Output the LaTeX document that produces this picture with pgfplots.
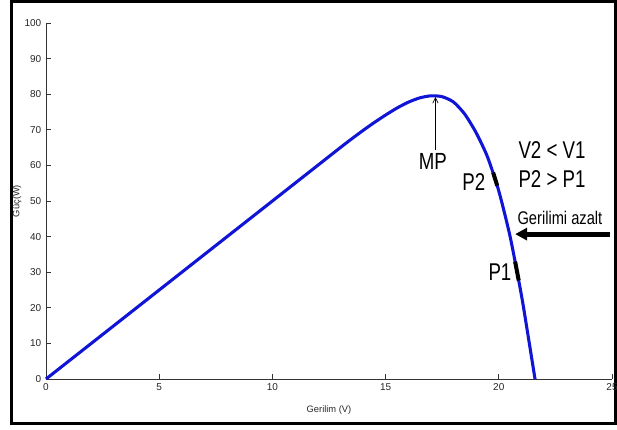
\documentclass[border=0pt]{standalone}
\usepackage{pgfplots}
\pgfplotsset{compat=1.18}
\usetikzlibrary{arrows.meta}
\usepackage{fontspec}
\setmainfont{Liberation Sans}
\definecolor{curveblue}{RGB}{15,20,215}
\begin{document}
\begin{tikzpicture}
\useasboundingbox (0,0) rectangle (462.75pt,321.75pt);
\begin{scope}[x=0.75pt,y=0.75pt]
\draw[line width=2.2pt] (11.5,5.5) rectangle (615.5,427.5);
\end{scope}
\begin{axis}[
  at={(34.5pt,37.5pt)}, anchor=south west,
  scale only axis, width=424.5pt, height=267pt,
  xmin=0, xmax=25, ymin=0, ymax=100,
  axis x line=bottom, axis y line=left,
  axis line style={-, black!80, line width=0.6pt},
  xtick={0,5,...,25}, ytick={0,10,...,100},
  xtick align=inside, ytick align=inside, major tick length=4pt,
  tick style={black!80, line width=0.6pt},
  ticklabel style={font=\fontsize{7.5}{8.5}\selectfont, text=black!85},
  /pgf/number format/assume math mode=true,
  xlabel={Gerilim (V)}, ylabel={Güç(W)},
  label style={font=\fontsize{7}{8}\selectfont, text=black!85},
  xlabel style={at={(axis description cs:0.5,-0.087)}, anchor=center},
  ylabel style={at={(axis description cs:-0.0512,0.5)}, anchor=center},
  clip=false,
]
\addplot[curveblue, line width=2.3pt, smooth, tension=0.4] coordinates {
(0,0) (5,25) (10,50) (11,55) (12,60) (13,65) (13.5,67.45) (14,69.8) (14.5,72.05)
(15,74.15) (15.5,76.1) (16,77.75) (16.5,78.95) (17,79.55) (17.5,79.3) (18,77.8)
(18.5,74.37) (19,69.16) (19.5,62.4) (20,52.8) (20.5,39.98) (21,23.52) (21.3,11.9) (21.6,0)
};
\addplot[black, line width=3pt] coordinates {(19.75,58.0) (19.93,54.3)};
\addplot[black, line width=3pt] coordinates {(20.72,33.0) (20.88,27.7)};
\draw[-{Straight Barb[length=4pt,width=4pt]}, line width=0.5pt] (axis cs:17.2,64.3) -- (axis cs:17.2,79.2);
\draw[-{Triangle[length=9pt,width=9pt]}, line width=3.6pt] (axis cs:24.9,40.7) -- (axis cs:20.72,40.7);
\node[font=\fontsize{14}{16}\selectfont, yscale=1.25, transform shape] at (axis cs:17.09,61.2) {MP};
\node[font=\fontsize{14}{16}\selectfont, yscale=1.3, transform shape] at (axis cs:22.35,64.3) {V2 < V1};
\node[font=\fontsize{14}{16}\selectfont, yscale=1.3, transform shape] at (axis cs:22.35,56.2) {P2 > P1};
\node[font=\fontsize{14}{16}\selectfont, yscale=1.3, transform shape] at (axis cs:18.9,55.3) {P2};
\node[font=\fontsize{14}{16}\selectfont, yscale=1.3, transform shape] at (axis cs:20.05,30.1) {P1};
\node[font=\fontsize{11}{13}\selectfont, yscale=1.25, transform shape] at (axis cs:22.7,45.2) {Gerilimi azalt};
\end{axis}
\end{tikzpicture}
\end{document}
